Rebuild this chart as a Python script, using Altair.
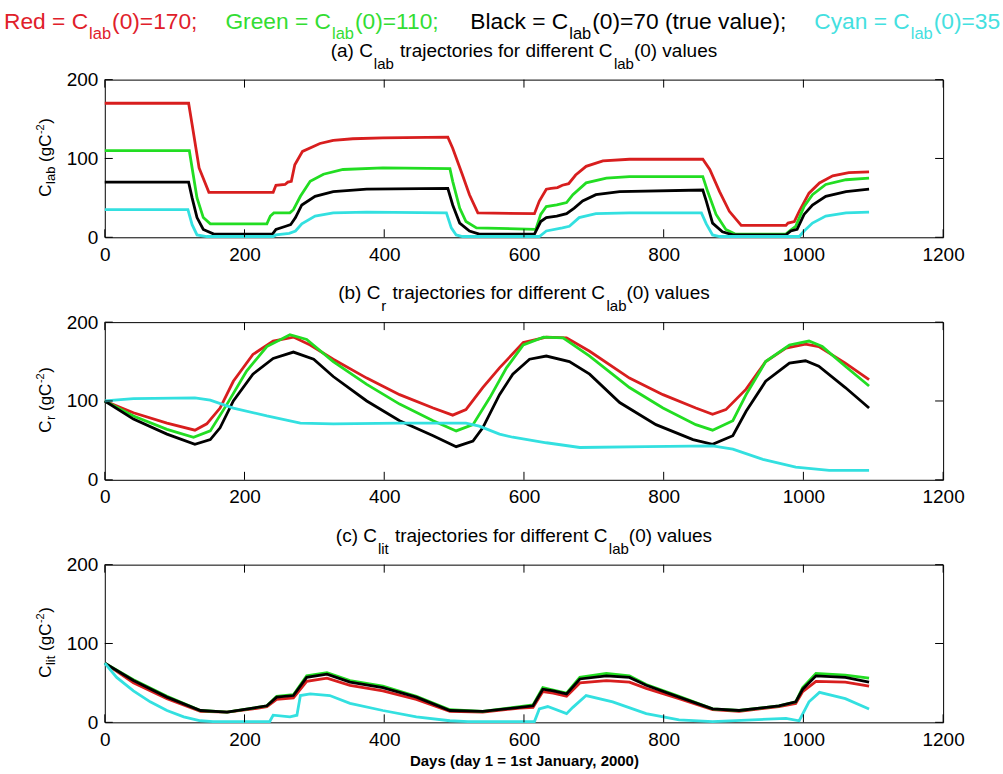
import altair as alt
import pandas as pd

FONT = "Liberation Sans"
PANEL_W, PANEL_H = 840, 158
PANEL_LEFT = 104
PANEL_TOPS = [78, 321, 564]

x_ticks = [0, 200, 400, 600, 800, 1000, 1200]
y_ticks = [0, 100, 200]

series_names = ["Red", "Green", "Black", "Cyan"]
line_colors = ["#d81e1e", "#22dd22", "#000000", "#33e0e0"]
text_colors = ["#e0202a", "#33dd33", "#000000", "#44e0e0"]

# ---------------- (a) C_lab ----------------
a_red_day = [0, 120, 125, 135, 149, 241, 245, 258, 262, 267, 272, 283, 308, 327, 355, 398, 491, 498, 512, 522, 534,
             615, 622, 632, 639, 648, 655, 664, 674, 689, 713, 751, 856, 866, 880, 894, 911, 975, 978, 987, 994, 1008,
             1023, 1042, 1065, 1094]
a_red_val = [170, 170, 143, 88, 57, 57, 66, 67, 70, 71, 92, 109, 119, 123, 125, 126, 127, 113, 79, 54, 31,
             30, 46, 61, 62, 63, 66, 68, 79, 90, 97, 99, 99, 86, 58, 33, 15, 15, 18, 20, 33, 56,
             69, 78, 82, 83]
a_green_day = [0, 121, 125, 132, 141, 151, 232, 237, 242, 265, 270, 280, 294, 313, 341, 398, 494, 498, 508, 517, 532,
               617, 624, 632, 647, 661, 670, 689, 718, 751, 856, 863, 875, 889, 903, 975, 980, 989, 1001, 1013, 1032,
               1061, 1094]
a_green_val = [110, 110, 88, 50, 25, 17, 17, 27, 31, 31, 35, 52, 71, 80, 86, 88, 87, 71, 37, 20, 12,
               10, 29, 39, 41, 44, 54, 69, 75, 77, 77, 58, 29, 10, 4, 4, 8, 14, 39, 54, 67,
               73, 75]
a_black_day = [0, 120, 125, 132, 141, 156, 240, 245, 259, 266, 273, 282, 301, 327, 375, 491, 498, 508, 522, 536,
               615, 624, 632, 647, 661, 672, 684, 703, 737, 856, 861, 870, 884, 899, 975, 982, 991, 1001, 1013, 1032,
               1061, 1094]
a_black_val = [70, 70, 50, 25, 10, 4, 4, 10, 14, 16, 25, 41, 52, 58, 61, 62, 41, 18, 8, 4,
               4, 20, 25, 27, 30, 37, 46, 54, 58, 60, 46, 18, 7, 3, 3, 8, 10, 29, 41, 52,
               58, 61]
a_cyan_day = [0, 119, 125, 132, 146, 241, 245, 264, 273, 282, 301, 327, 375, 489, 496, 503, 512, 622, 632, 655, 665,
              679, 703, 751, 854, 861, 870, 880, 994, 1001, 1013, 1032, 1061, 1094]
a_cyan_val = [35, 35, 16, 3, 1, 1, 3, 5, 8, 17, 27, 31, 32, 31, 12, 3, 1, 1, 8, 12, 14,
              25, 30, 31, 31, 17, 3, 1, 1, 8, 18, 27, 31, 32]

# ---------------- (b) C_r ----------------
b_red_day = [0, 41, 89, 129, 146, 165, 184, 212, 241, 270, 294, 327, 375, 422, 470, 498, 517, 541, 565, 599,
             632, 661, 694, 751, 799, 846, 870, 889, 918, 946, 975, 1003, 1022, 1060, 1094]
b_red_val = [100, 85, 72, 63, 71, 91, 125, 159, 176, 181, 171, 153, 129, 108, 91, 82, 89, 117, 142, 174,
             181, 180, 163, 129, 108, 91, 83, 89, 115, 150, 167, 172, 169, 148, 127]
b_green_day = [0, 41, 89, 127, 151, 175, 203, 232, 265, 289, 327, 375, 422, 470, 503, 527, 551, 575, 599, 628,
               656, 694, 751, 799, 846, 870, 899, 918, 946, 980, 1008, 1027, 1060, 1094]
b_green_val = [100, 81, 64, 54, 62, 96, 138, 169, 184, 178, 150, 121, 96, 75, 62, 70, 104, 142, 171, 181,
               180, 157, 117, 91, 70, 63, 75, 108, 150, 171, 176, 169, 144, 119]
b_black_day = [0, 41, 89, 129, 151, 165, 184, 212, 241, 270, 299, 327, 375, 422, 470, 503, 527, 541, 565, 584,
               608, 632, 665, 694, 737, 789, 842, 870, 899, 918, 946, 980, 1003, 1022, 1060, 1094]
b_black_val = [100, 77, 58, 45, 51, 66, 100, 134, 154, 162, 153, 131, 100, 75, 56, 42, 49, 66, 108, 134,
               153, 157, 150, 134, 98, 70, 51, 45, 56, 87, 125, 148, 151, 144, 117, 91]
b_cyan_day = [0, 41, 129, 151, 184, 232, 280, 327, 422, 517, 536, 565, 584, 632, 680, 775, 870, 899, 942, 989,
              1037, 1094]
b_cyan_val = [100, 103, 104, 101, 91, 81, 72, 71, 72, 72, 68, 58, 54, 47, 41, 42, 43, 39, 26, 16,
              12, 12]

# ---------------- (c) C_lit ----------------
c_day = [0, 41, 89, 137, 175, 212, 232, 246, 270, 289, 318, 351, 398, 446, 494, 541, 594, 613, 627, 642,
         661, 680, 718, 751, 775, 822, 870, 908, 965, 989, 999, 1018, 1060, 1094]
c_red_val = [75, 50, 30, 14, 13, 17, 20, 29, 31, 52, 56, 47, 40, 29, 14, 13, 18, 19, 39, 37,
             33, 50, 53, 51, 43, 30, 16, 14, 20, 24, 39, 52, 51, 46]
c_green_val = [75, 54, 33, 15, 13, 18, 21, 33, 35, 59, 63, 53, 46, 33, 16, 14, 20, 22, 44, 41,
               37, 57, 62, 59, 48, 33, 17, 15, 21, 26, 44, 62, 60, 56]
c_black_val = [75, 53, 32, 15, 13, 18, 21, 32, 34, 57, 61, 51, 44, 32, 15, 14, 19, 21, 42, 40,
               36, 55, 59, 57, 47, 32, 17, 15, 21, 26, 42, 59, 57, 51]
c_cyan_day = [0, 17, 41, 65, 89, 113, 137, 155, 236, 241, 265, 275, 280, 294, 322, 351, 398, 446, 494, 520,
              615, 622, 634, 661, 670, 689, 727, 775, 822, 870, 975, 994, 1008, 1023, 1060, 1094]
c_cyan_val = [75, 57, 40, 26, 15, 7, 2, 1, 1, 9, 7, 9, 34, 36, 34, 24, 15, 7, 2, 1,
              1, 17, 20, 11, 19, 34, 26, 11, 3, 1, 5, 2, 26, 38, 30, 17]

# Arial / Liberation Sans advance widths (per 1000 em) for laying out text pieces
AW = {" ": 278, "(": 333, ")": 333, ",": 278, "-": 333, ";": 278, "=": 584, "B": 667, "C": 722,
      "G": 778, "R": 722, "a": 556, "b": 556, "c": 500, "d": 556, "e": 556, "f": 278, "g": 556,
      "i": 222, "j": 222, "k": 500, "l": 222, "n": 556, "o": 556, "r": 333, "s": 500, "t": 278,
      "u": 556, "v": 500, "y": 500}


def tw(s, size):
    return sum(AW.get(ch, 556) for ch in s) * size / 1000.0


def make_df(pairs):
    rows = []
    for name, (d, v) in zip(series_names, pairs):
        for dd, vv in zip(d, v):
            rows.append({"day": dd, "value": vv, "series": name})
    return pd.DataFrame(rows)


def txt(s, ax, ay, top, size, color="black", angle=0, weight="normal"):
    kw = dict(text=s, align="left", baseline="alphabetic", fontSize=size, color=color,
              font=FONT, fontWeight=weight)
    if angle:
        kw["angle"] = angle
    return alt.Chart(alt.Data(values=[{"k": 0}])).mark_text(**kw).encode(
        x=alt.value(ax - PANEL_LEFT), y=alt.value(ay - top))


SUB_MAIN, SUB_SUB = 19, 15


def subtitle(top, letter, sub):
    # (text, is_subscript, leading gap in px)
    sp = tw(" ", SUB_MAIN)
    pieces = [("(%s) C" % letter, False, 0), (sub, True, 1), ("trajectories for different C", False, sp + 1),
              ("lab", True, 1), ("(0) values", False, 0)]
    total = sum(g + tw(p, SUB_SUB if s else SUB_MAIN) for p, s, g in pieces)
    x = PANEL_LEFT + PANEL_W / 2 - total / 2
    out = []
    for p, s, g in pieces:
        size = SUB_SUB if s else SUB_MAIN
        x += g
        out.append(txt(p, x, top - (11 if s else 23), top, size))
        x += tw(p, size)
    return out


def ylabel(top, sub):
    # (text, size, baseline x, leading gap)
    pieces = [("C", 17, 50, 0), (sub, 13, 54, 0.5), ("(gC", 17, 50, tw(" ", 17)), ("-2", 11, 43, 0.5),
              (")", 17, 50, 0.5)]
    total = sum(g + tw(p, s) for p, s, _, g in pieces)
    y = top + 78 + total / 2
    out = []
    for p, s, bx, g in pieces:
        y -= g
        out.append(txt(p, bx, y, top, s, angle=270))
        y -= tw(p, s)
    return out


def panel(df, top, texts, xtitle=None):
    xs = alt.Scale(domain=[0, 1200], nice=False)
    ys = alt.Scale(domain=[0, 200], nice=False)
    color = alt.Color("series:N", scale=alt.Scale(domain=series_names, range=line_colors), legend=None)
    xaxis_kw = dict(orient="bottom", values=x_ticks, format="d", ticks=False, tickSize=0, domain=False,
                    grid=False, labelFontSize=19, labelPadding=8, labelFlush=False, labelColor="black",
                    labelFont=FONT, title=None)
    if xtitle:
        xaxis_kw.update(title=xtitle, titleFontSize=15, titleFontWeight="bold", titlePadding=4,
                        titleColor="black", titleFont=FONT)
    lines = alt.Chart(df).mark_line(strokeWidth=2.8).encode(
        x=alt.X("day:Q", scale=xs, axis=alt.Axis(**xaxis_kw)),
        y=alt.Y("value:Q", scale=ys, axis=alt.Axis(orient="left", values=y_ticks, format="d", ticks=False,
                                                   tickSize=0, domain=False, grid=False, labelFontSize=19,
                                                   labelPadding=7, labelColor="black", labelFont=FONT,
                                                   title=None)),
        color=color,
    )
    xt = alt.Chart(pd.DataFrame({"t": x_ticks}))
    yt = alt.Chart(pd.DataFrame({"t": y_ticks}))
    rule = dict(color="black", strokeWidth=1)
    tick_layers = [
        xt.mark_rule(**rule).encode(x=alt.X("t:Q", scale=xs, axis=None), y=alt.value(0), y2=alt.value(8)),
        xt.mark_rule(**rule).encode(x=alt.X("t:Q", scale=xs, axis=None), y=alt.value(PANEL_H - 8),
                                    y2=alt.value(PANEL_H)),
        yt.mark_rule(**rule).encode(y=alt.Y("t:Q", scale=ys, axis=None), x=alt.value(0), x2=alt.value(8)),
        yt.mark_rule(**rule).encode(y=alt.Y("t:Q", scale=ys, axis=None), x=alt.value(PANEL_W - 8),
                                    x2=alt.value(PANEL_W)),
    ]
    return alt.layer(lines, *tick_layers, *texts).resolve_axis(
        x="independent", y="independent").properties(width=PANEL_W, height=PANEL_H)


df_a = make_df([(a_red_day, a_red_val), (a_green_day, a_green_val),
                (a_black_day, a_black_val), (a_cyan_day, a_cyan_val)])
df_b = make_df([(b_red_day, b_red_val), (b_green_day, b_green_val),
                (b_black_day, b_black_val), (b_cyan_day, b_cyan_val)])
df_c = make_df([(c_day, c_red_val), (c_day, c_green_val),
                (c_day, c_black_val), (c_cyan_day, c_cyan_val)])

ta, tb, tc = PANEL_TOPS

# top title line, laid out piece by piece
T_MAIN, T_SUB = 22.8, 16.5
title_groups = [
    (0, "Red = C", "(0)=170;"),
    (1, "Green = C", "(0)=110;"),
    (2, "Black = C", "(0)=70 (true value);"),
    (3, "Cyan = C", "(0)=35"),
]
group_gaps = [28, 30, 28]
top_texts = []
x = 3.0
for gi, (ci, head, tail) in enumerate(title_groups):
    col = text_colors[ci]
    top_texts.append(txt(head, x, 27, ta, T_MAIN, color=col))
    x += tw(head, T_MAIN) + 1
    top_texts.append(txt("lab", x, 37, ta, T_SUB, color=col))
    x += tw("lab", T_SUB) + 1
    top_texts.append(txt(tail, x, 27, ta, T_MAIN, color=col))
    x += tw(tail, T_MAIN)
    if gi < len(group_gaps):
        x += group_gaps[gi]

pa = panel(df_a, ta, top_texts + subtitle(ta, "a", "lab") + ylabel(ta, "lab"))
pb = panel(df_b, tb, subtitle(tb, "b", "r") + ylabel(tb, "r"))
pc = panel(df_c, tc, subtitle(tc, "c", "lit") + ylabel(tc, "lit"),
           xtitle="Days (day 1 = 1st January, 2000)")

chart = alt.vconcat(pa, pb, pc, spacing=85, bounds="flush").properties(
    padding={"left": 3, "top": 9, "right": 2, "bottom": 2}
).configure(font=FONT).configure_view(stroke="black", strokeWidth=1)

chart.save("out.html", embed_options={"renderer": "svg", "actions": False})
